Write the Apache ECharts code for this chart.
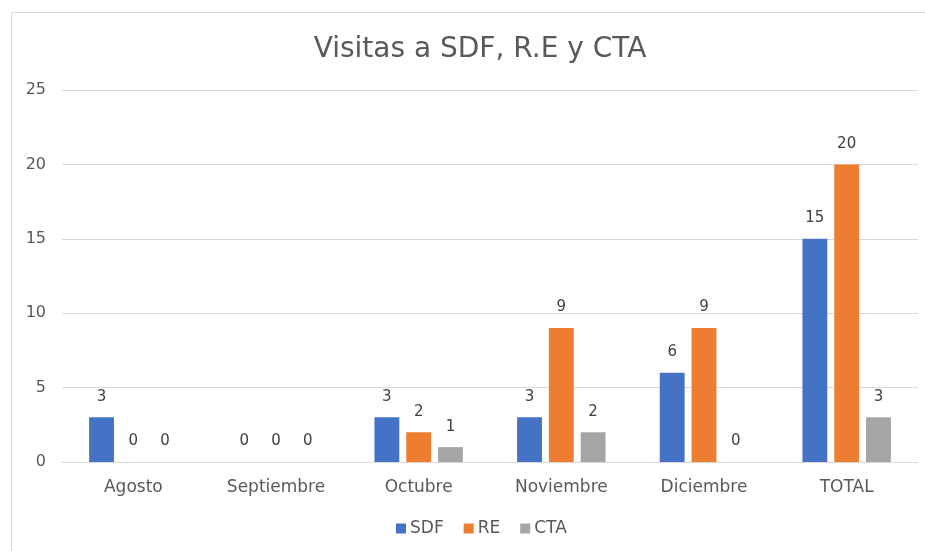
<!DOCTYPE html>
<html>
<head>
<meta charset="utf-8">
<style>
  html, body { margin: 0; padding: 0; background: #fff; }
  #chart { width: 925px; height: 551px; }
</style>
<script src="https://cdn.jsdelivr.net/npm/echarts@6/dist/echarts.min.js"></script>
</head>
<body>
<div id="chart"></div>
<script>
// Monthly visits per program
const categories = ['Agosto', 'Septiembre', 'Octubre', 'Noviembre', 'Diciembre', 'TOTAL'];
const sdfValues = [3, 0, 3, 3, 6, 15];
const reValues = [0, 0, 2, 9, 9, 20];
const ctaValues = [0, 0, 1, 2, 0, 3];
const yTicks = [0, 5, 10, 15, 20, 25];

const textColor = '#595959';
const font = 'DejaVu Sans, Liberation Sans, Arial, sans-serif';

const chart = echarts.init(document.getElementById('chart'), null, { renderer: 'canvas' });

function barSeries(name, data, color) {
  return {
    name: name,
    type: 'bar',
    data: data,
    barGap: '28%',
    barCategoryGap: '38%',
    itemStyle: { color: color },
    label: {
      show: true,
      position: 'top',
      distance: 13,
      color: '#404040',
      fontFamily: font,
      fontSize: 15
    }
  };
}

chart.setOption({
  animation: false,
  backgroundColor: '#ffffff',
  graphic: [{
    type: 'rect',
    shape: { x: 11.5, y: 12.5, width: 950, height: 600 },
    style: { fill: 'none', stroke: '#d9d9d9', lineWidth: 1 },
    silent: true
  }],
  title: {
    text: 'Visitas a SDF, R.E y CTA',
    left: 475,
    textAlign: 'center',
    top: 31,
    textStyle: { color: textColor, fontFamily: font, fontSize: 28, fontWeight: 'normal' }
  },
  legend: {
    data: ['SDF', 'RE', 'CTA'],
    left: 391,
    top: 515,
    itemWidth: 10,
    itemHeight: 10,
    itemGap: 20,
    icon: 'rect',
    textStyle: { color: textColor, fontFamily: font, fontSize: 17, padding: [0, 0, 0, -1] }
  },
  grid: { left: 62, right: 7, top: 90, bottom: 89, containLabel: false },
  xAxis: {
    type: 'category',
    data: categories,
    axisTick: { show: false },
    axisLine: { lineStyle: { color: '#d9d9d9' } },
    axisLabel: { color: textColor, fontFamily: font, fontSize: 17, margin: 17 }
  },
  yAxis: {
    type: 'value',
    min: yTicks[0],
    max: yTicks[yTicks.length - 1],
    interval: yTicks[1] - yTicks[0],
    axisLine: { show: false },
    axisTick: { show: false },
    splitLine: { lineStyle: { color: '#d9d9d9' } },
    axisLabel: { color: textColor, fontFamily: font, fontSize: 16, margin: 16 }
  },
  series: [
    barSeries('SDF', sdfValues, '#4472C4'),
    barSeries('RE', reValues, '#ED7D31'),
    barSeries('CTA', ctaValues, '#A5A5A5')
  ]
});
</script>
</body>
</html>
